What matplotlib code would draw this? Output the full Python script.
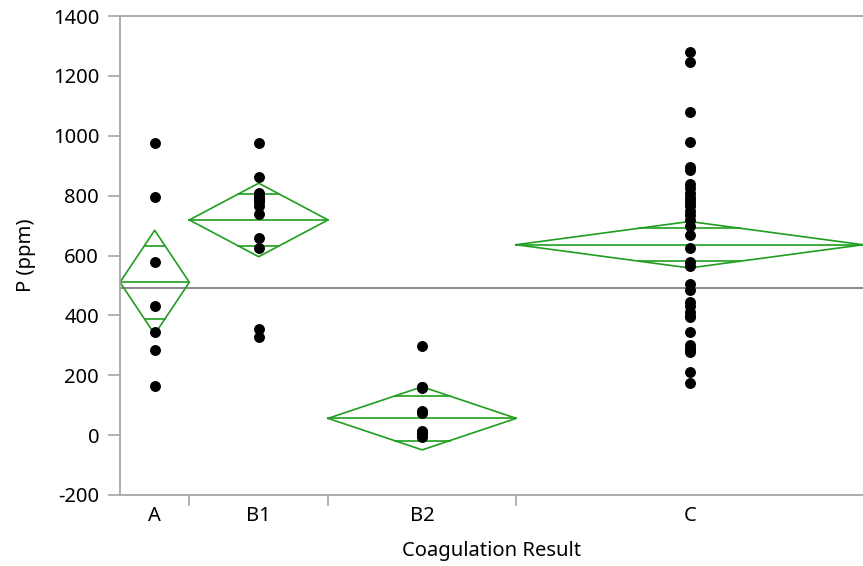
import numpy as np
import matplotlib
matplotlib.use("Agg")
import matplotlib.pyplot as plt

plt.rcParams['font.family'] = ['Noto Sans', 'DejaVu Sans']
plt.rcParams['axes.unicode_minus'] = False

# groups and their P values (ppm)
groups = ["A", "B1", "B2", "C"]
vals_a = [977, 795, 577, 432, 343, 285, 165]
vals_b1 = [975, 863, 808, 800, 795, 790, 785, 780, 765, 739, 657, 624, 353, 329]
vals_b2 = [299, 162, 160, 158, 80, 78, 75, 15, 12, 10, 8, 6, 5, 3, 2, 0, 0, -3, -5]
vals_c = [1281, 1248, 1078, 980, 897, 885, 840, 825, 810, 795, 785, 775, 765, 750,
          735, 720, 700, 668, 624, 578, 566, 505, 485, 445, 432, 410, 398, 395, 345,
          300, 290, 285, 279, 212, 173]
data = [vals_a, vals_b1, vals_b2, vals_c]

green = "#1f9e1f"
axis_gray = "#a6a6a6"
fs = 14.5

# pooled std for means diamonds (95% CI)
n = np.array([len(v) for v in data])
means = np.array([np.mean(v) for v in data])
ss = sum(((np.array(v) - np.mean(v)) ** 2).sum() for v in data)
dof = n.sum() - len(data)
s_pooled = np.sqrt(ss / dof)
t_crit = 1.994  # t(0.975, 71)
half = t_crit * s_pooled / np.sqrt(n)
grand = np.mean(np.concatenate(data))

edges = np.concatenate([[0], np.cumsum(n)])
centers = (edges[:-1] + edges[1:]) / 2

fig = plt.figure(figsize=(8.63, 5.66), dpi=100)
ax = fig.add_axes([120 / 863, 1 - 495 / 566, 743 / 863, 479 / 566])

ax.axhline(grand, color="#808080", lw=1.3, zorder=1)

for i in range(len(groups)):
    l, r, c, m, h = edges[i], edges[i + 1], centers[i], means[i], half[i]
    ax.plot([l, c, r, c, l], [m, m + h, m, m - h, m], color=green, lw=1.2, zorder=2)
    ax.plot([l, r], [m, m], color=green, lw=1.2, zorder=2)
    w = (r - l) / 2 * (1 - 1 / np.sqrt(2))
    for sgn in (1, -1):
        ax.plot([c - w, c + w], [m + sgn * h / np.sqrt(2)] * 2, color=green, lw=1.2, zorder=2)
    ax.scatter([c] * len(data[i]), data[i], s=62, color="black", zorder=3, linewidths=0)

ax.set_xlim(edges[0], edges[-1])
ax.set_ylim(-200, 1400)
ax.set_yticks(np.arange(-200, 1401, 200))
ax.set_xticks(centers)
ax.set_xticklabels(groups)
ax.set_xticks(edges[1:-1], minor=True)
ax.tick_params(axis="x", which="major", length=0, pad=8, labelsize=fs)
ax.tick_params(axis="x", which="minor", length=8, color=axis_gray, width=1.2)
ax.tick_params(axis="y", length=9, color=axis_gray, width=1.2, pad=6, labelsize=fs)

for side in ["top", "left", "bottom"]:
    ax.spines[side].set_color(axis_gray)
    ax.spines[side].set_linewidth(1.3)
ax.spines["right"].set_visible(False)

ax.set_ylabel("P (ppm)", fontsize=fs, labelpad=12)
ax.set_xlabel("Coagulation Result", fontsize=fs, labelpad=11)

fig.savefig("out.png", dpi=100)
